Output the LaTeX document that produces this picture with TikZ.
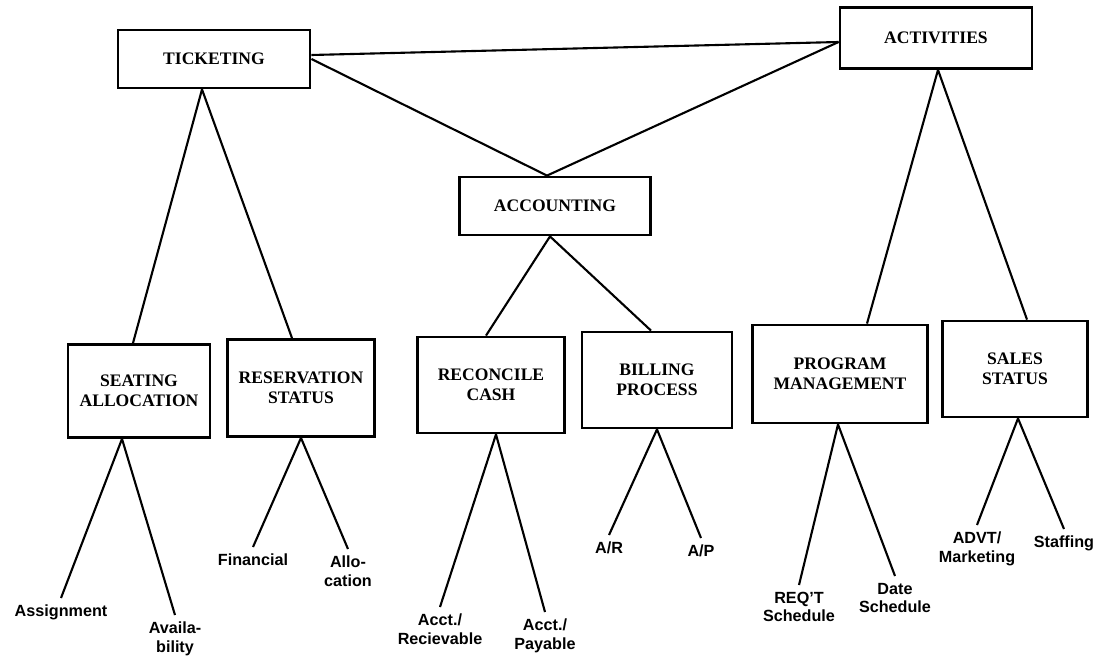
\documentclass[tikz,border=0pt]{standalone}
\usepackage{fontspec}
\setmainfont{Liberation Serif}
\setsansfont{Liberation Sans}
\usetikzlibrary{calc}

\begin{document}
\begin{tikzpicture}[x=0.025cm, y=-0.025cm,
  task/.style={draw, line width=2pt, align=center, inner sep=2pt,
    font=\bfseries\fontsize{12.5}{14}\selectfont},
  leaf/.style={anchor=north, align=center, inner sep=1pt, outer sep=4pt,
    font=\sffamily\bfseries\fontsize{11.5}{13}\selectfont},
  link/.style={line width=1.5pt, line join=round}]
\useasboundingbox (0,0) rectangle (1100,658);

% main areas
\node[task, minimum width=4.8cm, minimum height=1.45cm] (ticket) at (214,59) {TICKETING};
\node[task, minimum width=4.8cm, minimum height=1.525cm] (activ) at (936,38) {ACTIVITIES};
\node[task, minimum width=4.775cm, minimum height=1.45cm] (acct) at (555,206) {ACCOUNTING};

% second level
\node[task, minimum width=3.55cm, minimum height=2.325cm] (seat) at (139,391) {SEATING\\ALLOCATION};
\node[task, minimum width=3.675cm, minimum height=2.425cm] (resv) at (301,388) {RESERVATION\\STATUS};
\node[task, minimum width=3.675cm, minimum height=2.4cm] (recon) at (491,385) {RECONCILE\\CASH};
\node[task, minimum width=3.75cm, minimum height=2.4cm] (bill) at (657,380) {BILLING\\PROCESS};
\node[task, minimum width=4.375cm, minimum height=2.45cm] (prog) at (840,374) {PROGRAM\\MANAGEMENT};
\node[task, minimum width=3.625cm, minimum height=2.4cm] (sales) at (1015,369) {SALES\\STATUS};

% items
\node[leaf] (assign) at (61,598) {Assignment};
\node[leaf] (avail) at (175,615) {Availa-\\bility};
\node[leaf] (fin) at (253,547) {Financial};
\node[leaf] (alloc) at (348,549) {Allo-\\cation};
\node[leaf] (recv) at (440,607) {Acct./\\Recievable};
\node[leaf] (pay) at (545,612) {Acct./\\Payable};
\node[leaf] (ar) at (609,535) {A/R};
\node[leaf] (ap) at (701,538) {A/P};
\node[leaf] (reqt) at (799,585) {REQ'T\\Schedule};
\node[leaf] (date) at (895,576) {Date\\Schedule};
\node[leaf] (advt) at (977,525) {ADVT/\\Marketing};
\node[leaf] (staff) at (1064,529) {Staffing};

% links between the areas
\draw[link] ($(ticket.east)+(0,-4)$) -- ($(activ.west)+(0,4)$);
\draw[link] (ticket.east) -- ($(acct.north)+(-8,0)$) -- ($(activ.west)+(0,4)$);
\draw[link] ($(seat.north)+(-6,0)$) -- ($(ticket.south)+(-12,0)$) -- ($(resv.north)+(-9,0)$);
\draw[link] ($(recon.north)+(-5,0)$) -- ($(acct.south)+(-5,0)$) -- ($(bill.north)+(-6,0)$);
\draw[link] ($(prog.north)+(27,0)$) -- ($(activ.south)+(2,0)$) -- ($(sales.north)+(12,0)$);

% items under each box
\foreach \up/\dx/\a/\b in {seat/-17/assign/avail, resv/0/fin/alloc,
    recon/5/recv/pay, bill/0/ar/ap, prog/-2/reqt/date, sales/3/advt/staff}
  \draw[link] (\a.north) -- ($(\up.south)+(\dx,0)$) -- (\b.north);
\end{tikzpicture}
\end{document}
